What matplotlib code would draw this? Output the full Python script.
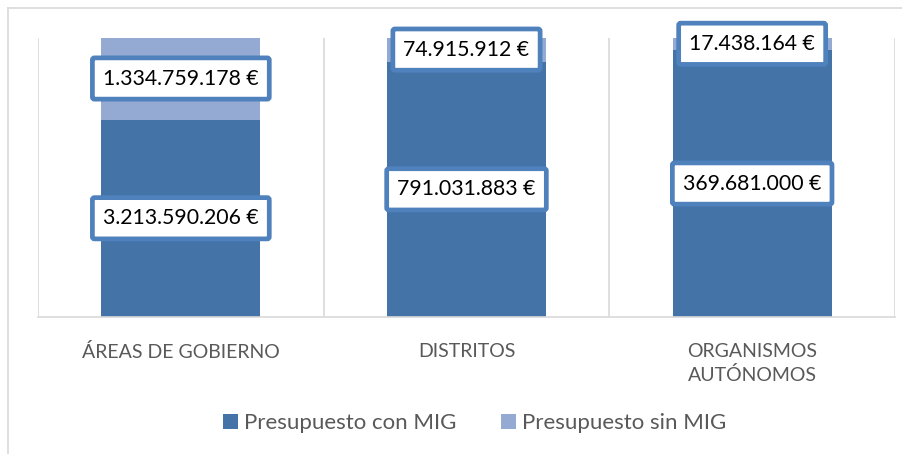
import matplotlib.pyplot as plt
from matplotlib.lines import Line2D

categories = ['ÁREAS DE GOBIERNO', 'DISTRITOS', 'ORGANISMOS\nAUTÓNOMOS']
con_mig = [3213590206, 791031883, 369681000]
sin_mig = [1334759178, 74915912, 17438164]
series_names = ['Presupuesto con MIG', 'Presupuesto sin MIG']

dark = '#4473a8'
light = '#94aad3'
edge = '#4f81bd'
grey_text = '#595959'
grid = '#d9d9d9'

plt.rcParams['font.family'] = ['Lato', 'DejaVu Sans']

fig = plt.figure(figsize=(9.03, 4.54), dpi=100)
ax = fig.add_axes([38 / 903, 1 - 317 / 454, 857 / 903, 279.5 / 454])

# marco exterior del gráfico
fig.add_artist(Line2D([8 / 903, 1], [1 - 8 / 454, 1 - 8 / 454], color=grid, lw=1.2))
fig.add_artist(Line2D([8 / 903, 8 / 903], [0, 1 - 8 / 454], color=grid, lw=1.2))

# 100% apilado
totals = [a + b for a, b in zip(con_mig, sin_mig)]
pct_con = [a / t for a, t in zip(con_mig, totals)]
pct_sin = [b / t for b, t in zip(sin_mig, totals)]
x = list(range(len(categories)))
w = 0.556

ax.bar(x, pct_con, width=w, color=dark, label=series_names[0], zorder=2)
ax.bar(x, pct_sin, width=w, bottom=pct_con, color=light, label=series_names[1], zorder=2)


def euro(v):
    return f'{v:,}'.replace(',', '.') + ' €'


box = dict(boxstyle='round,pad=0.5,rounding_size=0.1', facecolor='white',
           edgecolor=edge, linewidth=3.4)
for i in x:
    ax.text(i, pct_con[i] / 2, euro(con_mig[i]), ha='center', va='center',
            fontsize=15.3, color='black', bbox=box, zorder=4)
    ax.text(i, pct_con[i] + pct_sin[i] / 2, euro(sin_mig[i]), ha='center', va='center',
            fontsize=15.3, color='black', bbox=box, zorder=4)

ax.set_xlim(-0.5, 2.5)
ax.set_ylim(0, 1)
ax.set_yticks([])
for xv in [-0.5, 0.5, 1.5, 2.5]:
    ax.axvline(xv, color=grid, lw=1.2, zorder=1)
for s in ['top', 'right', 'left']:
    ax.spines[s].set_visible(False)
ax.spines['bottom'].set_color(grid)
ax.spines['bottom'].set_linewidth(1.2)

ax.set_xticks(x)
ax.set_xticklabels(categories, fontsize=14, color=grey_text, linespacing=1.4)
ax.tick_params(axis='x', length=0, pad=19)

leg = fig.legend(loc='center', bbox_to_anchor=(0.526, 1 - 423 / 454), ncol=2, frameon=False,
                 fontsize=16, handlelength=0.65, handleheight=0.65, handletextpad=0.3,
                 columnspacing=2.0, labelcolor=grey_text)

fig.savefig('out.png', dpi=100)
